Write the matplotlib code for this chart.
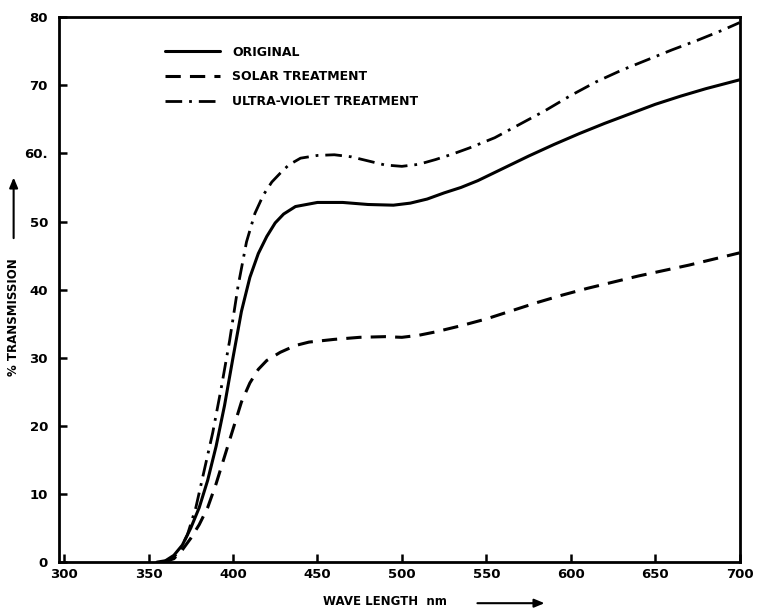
import matplotlib
matplotlib.use("Agg")
import matplotlib.pyplot as plt

# wavelength (nm) / % transmission
orig_wl = [355, 360, 365, 370, 375, 380, 385, 390, 395, 400, 405, 410, 415,
           420, 425, 430, 437, 450, 465, 480, 495, 505, 515, 525, 535, 545,
           560, 575, 590, 605, 620, 635, 650, 665, 680, 700]
orig_tr = [0.0, 0.2, 1.0, 2.5, 5.0, 8.0, 12.0, 17.0, 23.0, 30.0, 36.8, 41.8,
           45.3, 47.8, 49.8, 51.1, 52.2, 52.8, 52.8, 52.5, 52.4, 52.7, 53.3,
           54.2, 55.0, 56.0, 57.8, 59.6, 61.3, 62.9, 64.4, 65.8, 67.2, 68.4,
           69.5, 70.8]

solar_wl = [358, 365, 370, 375, 380, 385, 390, 395, 400, 405, 410, 415, 420,
            428, 437, 445, 460, 475, 490, 500, 510, 520, 535, 550, 565, 580,
            595, 610, 625, 640, 655, 670, 685, 700]
solar_tr = [0.0, 0.5, 1.8, 3.5, 5.5, 8.0, 11.5, 15.5, 19.5, 23.5, 26.3, 28.3,
            29.6, 30.8, 31.8, 32.3, 32.7, 33.0, 33.1, 33.0, 33.3, 33.8, 34.7,
            35.7, 36.9, 38.1, 39.2, 40.2, 41.1, 42.0, 42.8, 43.6, 44.5, 45.4]

uv_wl = [358, 363, 368, 373, 378, 383, 388, 393, 398, 403, 408, 413, 418, 423,
         428, 433, 440, 450, 460, 470, 480, 490, 500, 510, 520, 530, 540, 555,
         570, 585, 600, 615, 630, 645, 660, 675, 690, 700]
uv_tr = [0.0, 0.3, 1.5, 4.0, 8.0, 13.5, 19.0, 25.5, 32.5, 40.5, 47.0, 51.2,
         53.9, 55.8, 57.1, 58.3, 59.3, 59.7, 59.8, 59.5, 58.9, 58.3, 58.1, 58.4,
         59.1, 59.9, 60.8, 62.3, 64.3, 66.3, 68.5, 70.5, 72.2, 73.7, 75.2, 76.6,
         78.1, 79.2]

x_ticks = [300, 350, 400, 450, 500, 550, 600, 650, 700]
y_ticks = [0, 10, 20, 30, 40, 50, 60, 70, 80]
y_tick_labels = ["0", "10", "20", "30", "40", "50", "60.", "70", "80"]

fig = plt.figure(figsize=(7.57, 6.13), dpi=100)
ax = fig.add_axes([0.078, 0.083, 0.899, 0.889])

ax.plot(orig_wl, orig_tr, color="black", lw=2.2, solid_capstyle="round",
        label="ORIGINAL")
ax.plot(solar_wl, solar_tr, color="black", lw=2.2, dashes=(5, 3),
        label="SOLAR TREATMENT")
ax.plot(uv_wl, uv_tr, color="black", lw=2.0, dashes=(6, 2.5, 1, 2.5),
        label="ULTRA-VIOLET TREATMENT")

ax.set_xlim(297, 700)
ax.set_ylim(0, 80)
ax.set_xticks(x_ticks)
ax.set_yticks(y_ticks)
ax.set_yticklabels(y_tick_labels)
ax.tick_params(direction="in", width=1.8, length=6, labelsize=9.5)
ax.tick_params(axis="x", pad=4)
ax.tick_params(axis="y", pad=8)
for label in ax.get_xticklabels() + ax.get_yticklabels():
    label.set_fontweight("bold")
for spine in ax.spines.values():
    spine.set_linewidth(2.0)

leg = ax.legend(loc="upper left", bbox_to_anchor=(0.155, 0.948), frameon=False,
                borderpad=0, borderaxespad=0, handlelength=4.4,
                handletextpad=1.0, labelspacing=0.95,
                prop={"weight": "bold", "size": 9})

# axis titles with arrows, as on the original drawing
fig.text(0.508, 0.018, "WAVE LENGTH  nm", fontsize=8.5, fontweight="bold",
         ha="center", va="center")
fig.add_artist(matplotlib.patches.FancyArrowPatch(
    (0.627, 0.016), (0.723, 0.016), transform=fig.transFigure,
    arrowstyle="-|>,head_length=6,head_width=2.5", color="black", lw=1.5))

fig.text(0.018, 0.483, "% TRANSMISSION", fontsize=8.5, fontweight="bold",
         rotation=90, ha="center", va="center")
fig.add_artist(matplotlib.patches.FancyArrowPatch(
    (0.018, 0.607), (0.018, 0.715), transform=fig.transFigure,
    arrowstyle="-|>,head_length=6,head_width=2.5", color="black", lw=1.5))

fig.savefig("out.png", dpi=100)
